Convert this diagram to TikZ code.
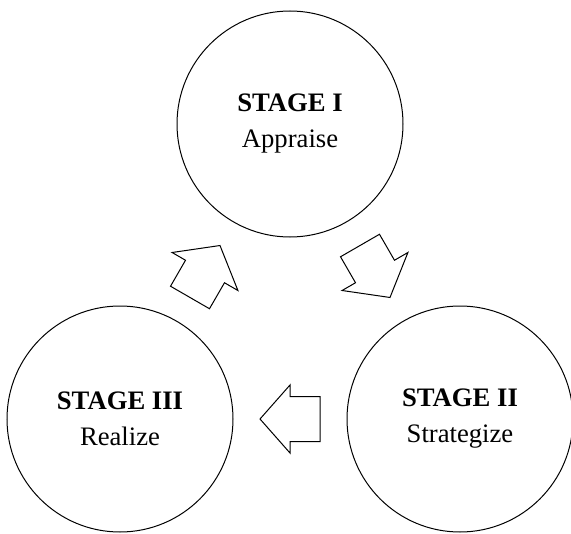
\documentclass[tikz,border=0pt]{standalone}
\usepackage{fontspec}
\setmainfont{Liberation Serif}
\usetikzlibrary{calc}
\begin{document}
\begin{tikzpicture}[x=0.75pt, y=0.75pt, line join=miter, line width=0.75pt,
	stage/.style={draw, circle, minimum size=169.5pt, inner sep=0pt, align=center, font=\fontsize{20}{27}\selectfont},
	declare function={L=30; w=22.5;}]
	
	\useasboundingbox (0,0) rectangle (571,533);
	
	\node[stage] (s1) at (290,409) {\textbf{STAGE I}\\Appraise};
	\node[stage] (s2) at (460,114) {\textbf{STAGE II}\\Strategize};
	\node[stage] (s3) at (120,114) {\textbf{STAGE III}\\Realize};
	
	\foreach \a/\b/\ang/\h in {s1/s2/-60/38, s2/s3/180/34, s3/s1/60/38} {
		\begin{scope}[shift={($(\a.center)!0.5!(\b.center)$)}, rotate=\ang]
			\draw (L,0) -- (0,\h) -- (0,w) -- (-L,w) -- (-L,-w) -- (0,-w) -- (0,-\h) -- cycle;
		\end{scope}
	}
	
\end{tikzpicture}
\end{document}
